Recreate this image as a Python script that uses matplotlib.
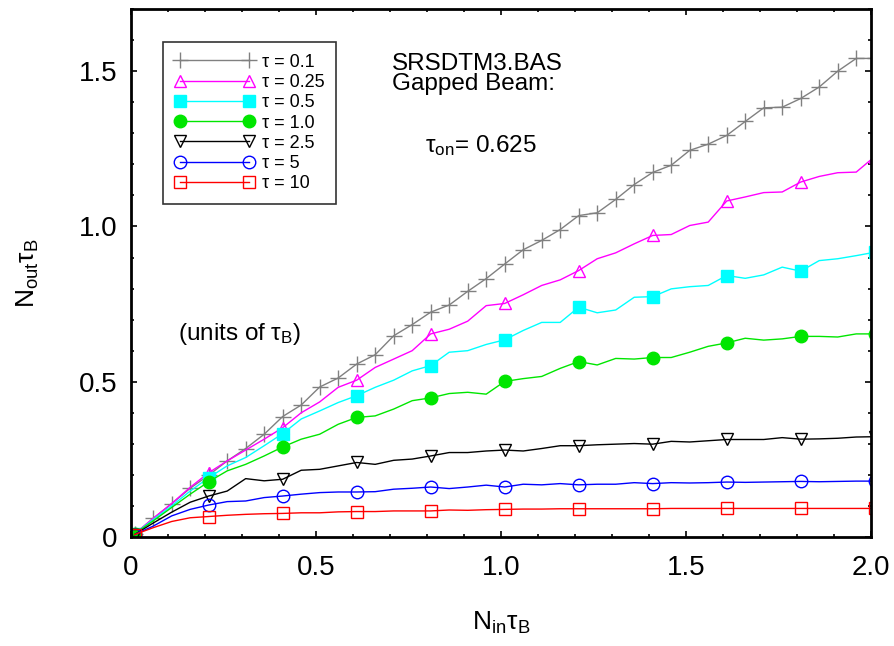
import matplotlib
matplotlib.use("Agg")
import matplotlib.pyplot as plt
from matplotlib.ticker import MultipleLocator, FixedLocator

plt.rcParams.update({
    "font.family": "sans-serif",
    "font.sans-serif": ["Liberation Sans", "DejaVu Sans"],
    "mathtext.fontset": "custom",
    "mathtext.rm": "Liberation Sans",
    "mathtext.it": "Liberation Sans",
    "mathtext.bf": "Liberation Sans:bold",
})

# ── data ─────────────────────────────────────────────────────────────────────
n_in = [0.01, 0.06, 0.11, 0.16, 0.21, 0.26, 0.31, 0.36, 0.41, 0.46,
        0.51, 0.56, 0.61, 0.66, 0.71, 0.76, 0.81, 0.86, 0.91, 0.96,
        1.01, 1.06, 1.11, 1.16, 1.21, 1.26, 1.31, 1.36, 1.41, 1.46,
        1.51, 1.56, 1.61, 1.66, 1.71, 1.76, 1.81, 1.86, 1.91, 1.96, 2.01]

tau_01 = [0.010, 0.060, 0.107, 0.157, 0.199, 0.245, 0.285, 0.331, 0.388, 0.425,
          0.483, 0.512, 0.557, 0.587, 0.648, 0.684, 0.724, 0.747, 0.791, 0.832,
          0.879, 0.925, 0.955, 0.990, 1.035, 1.044, 1.087, 1.135, 1.174, 1.197,
          1.245, 1.265, 1.293, 1.338, 1.382, 1.384, 1.412, 1.449, 1.500, 1.541, 1.541]
tau_025 = [0.010, 0.060, 0.108, 0.160, 0.207, 0.245, 0.280, 0.315, 0.352, 0.400,
           0.435, 0.482, 0.505, 0.546, 0.573, 0.600, 0.654, 0.669, 0.695, 0.745,
           0.752, 0.780, 0.810, 0.828, 0.858, 0.896, 0.915, 0.944, 0.971, 0.974,
           1.003, 1.014, 1.082, 1.095, 1.109, 1.111, 1.143, 1.161, 1.173, 1.175, 1.225]
tau_05 = [0.010, 0.056, 0.100, 0.148, 0.191, 0.229, 0.256, 0.294, 0.333, 0.380,
          0.406, 0.433, 0.455, 0.482, 0.505, 0.535, 0.552, 0.595, 0.600, 0.620,
          0.635, 0.665, 0.691, 0.691, 0.740, 0.722, 0.731, 0.772, 0.774, 0.799,
          0.806, 0.810, 0.842, 0.833, 0.844, 0.869, 0.856, 0.890, 0.896, 0.906, 0.917]
tau_1 = [0.010, 0.052, 0.095, 0.138, 0.178, 0.213, 0.234, 0.261, 0.290, 0.315,
         0.331, 0.363, 0.385, 0.390, 0.412, 0.439, 0.448, 0.462, 0.466, 0.460,
         0.501, 0.510, 0.517, 0.543, 0.565, 0.554, 0.575, 0.573, 0.578, 0.578,
         0.595, 0.614, 0.625, 0.640, 0.634, 0.638, 0.646, 0.646, 0.644, 0.654, 0.654]
tau_25 = [0.008, 0.045, 0.080, 0.112, 0.132, 0.148, 0.188, 0.181, 0.186, 0.215,
          0.218, 0.229, 0.240, 0.234, 0.247, 0.251, 0.261, 0.272, 0.272, 0.277,
          0.280, 0.277, 0.285, 0.294, 0.294, 0.297, 0.299, 0.301, 0.299, 0.308,
          0.306, 0.310, 0.314, 0.314, 0.314, 0.320, 0.315, 0.316, 0.318, 0.322, 0.323]
tau_5 = [0.008, 0.035, 0.068, 0.089, 0.103, 0.114, 0.116, 0.127, 0.132, 0.138,
         0.143, 0.145, 0.145, 0.146, 0.154, 0.157, 0.161, 0.156, 0.161, 0.167,
         0.161, 0.170, 0.168, 0.172, 0.168, 0.170, 0.170, 0.175, 0.172, 0.175,
         0.174, 0.175, 0.177, 0.176, 0.177, 0.178, 0.179, 0.178, 0.179, 0.180, 0.180]
tau_10 = [0.008, 0.030, 0.050, 0.062, 0.066, 0.070, 0.073, 0.075, 0.076, 0.078,
          0.078, 0.081, 0.082, 0.082, 0.084, 0.084, 0.084, 0.087, 0.086, 0.088,
          0.089, 0.090, 0.090, 0.091, 0.091, 0.091, 0.091, 0.091, 0.091, 0.092,
          0.092, 0.092, 0.092, 0.092, 0.092, 0.092, 0.092, 0.092, 0.092, 0.092, 0.092]

labels = ["τ = 0.1", "τ = 0.25", "τ = 0.5", "τ = 1.0", "τ = 2.5", "τ = 5", "τ = 10"]
series = [tau_01, tau_025, tau_05, tau_1, tau_25, tau_5, tau_10]

# (color, marker, filled, markevery)
styles = [
    ("#808080", "+", True, 1),
    ("#FF00FF", "^", False, 4),
    ("#00FFFF", "s", True, 4),
    ("#00E600", "o", True, 4),
    ("#000000", "v", False, 4),
    ("#0000FF", "o", False, 4),
    ("#FF0000", "s", False, 4),
]

fig = plt.figure(figsize=(8.94, 6.46), dpi=100)
ax = fig.add_axes([0.1465, 0.1687, 0.8278, 0.8173])

for ys, lab, (c, m, filled, every) in zip(series, labels, styles):
    ax.plot(n_in, ys, color=c, lw=1.0, marker=m, markevery=every,
            markersize=11 if m == "+" else 9,
            markerfacecolor=(c if filled else "none"), markeredgecolor=c,
            markeredgewidth=1.0, label=lab)

ax.set_xlim(0, 2.0)
ax.set_ylim(0, 1.7)
ax.xaxis.set_major_locator(FixedLocator([0, 0.5, 1.0, 1.5, 2.0]))
ax.yaxis.set_major_locator(FixedLocator([0, 0.5, 1.0, 1.5]))
ax.xaxis.set_minor_locator(MultipleLocator(0.1))
ax.yaxis.set_minor_locator(MultipleLocator(0.1))
ax.set_xticklabels(["0", "0.5", "1.0", "1.5", "2.0"])
ax.set_yticklabels(["0", "0.5", "1.0", "1.5"])
ax.tick_params(which="both", direction="in", top=True, right=True, width=1.2,
               labelsize=20)
ax.tick_params(which="major", length=4)
ax.tick_params(which="minor", length=2.5)
ax.tick_params(axis="x", which="major", pad=13)
ax.tick_params(axis="y", which="major", pad=10)
for sp in ax.spines.values():
    sp.set_linewidth(2)

ax.set_xlabel(r"$\mathregular{N_{in}\tau_B}$", fontsize=19, labelpad=21)
ax.set_ylabel(r"$\mathregular{N_{out}\tau_B}$", fontsize=19, labelpad=27)

ax.text(0.705, 1.503, "SRSDTM3.BAS", fontsize=17.5, va="baseline")
ax.text(0.705, 1.439, "Gapped Beam:", fontsize=17.5, va="baseline")
ax.text(0.794, 1.238, r"$\mathregular{\tau_{on}}$= 0.625", fontsize=17.5, va="baseline")
ax.text(0.127, 0.635, r"(units of $\mathregular{\tau_B}$)", fontsize=17.5, va="baseline")

leg = ax.legend(loc="upper left", bbox_to_anchor=(0.043, 0.9375), fontsize=13,
                numpoints=2, handlelength=4.4, labelspacing=0.18,
                handletextpad=0.45, borderpad=0.65, borderaxespad=0,
                fancybox=False, frameon=True)
leg.get_frame().set_edgecolor("black")
leg.get_frame().set_linewidth(1.2)

fig.savefig("out.png", dpi=100)
